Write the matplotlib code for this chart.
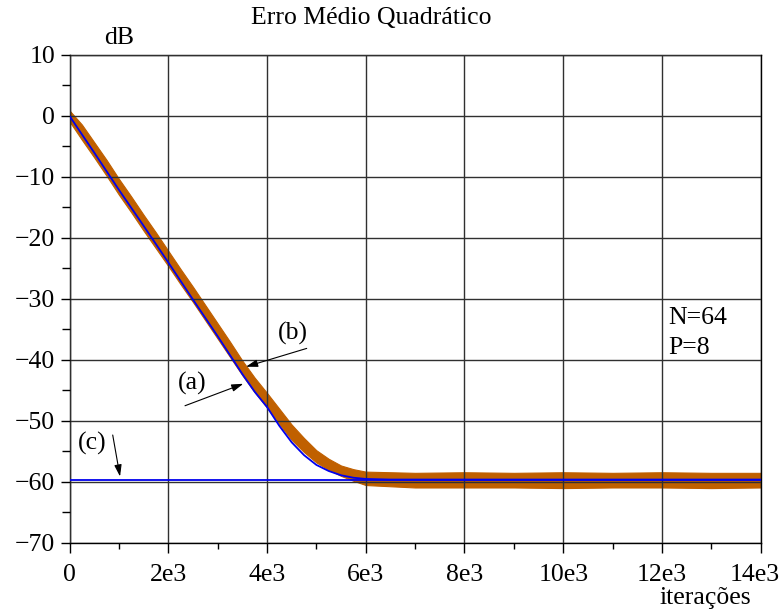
import matplotlib
matplotlib.use("Agg")
import matplotlib.pyplot as plt
from matplotlib.ticker import MultipleLocator
from matplotlib.transforms import ScaledTranslation

plt.rcParams['font.family'] = ['Liberation Serif', 'DejaVu Serif']
plt.rcParams['axes.unicode_minus'] = True

# (a) theoretical learning curve, dB
iter_a = [0, 250, 500, 750, 1000, 1250, 1500, 1750, 2000, 2250, 2500, 2750, 3000,
          3250, 3500, 3750, 4000, 4250, 4500, 4750, 5000, 5250, 5500, 5750, 6000,
          6500, 7000, 14000]
mse_a = [0.0, -3.0, -6.0, -9.05, -12.1, -15.05, -18.0, -21.0, -24.0, -27.05, -30.1,
         -33.1, -36.1, -39.2, -42.3, -45.2, -47.7, -50.8, -53.5, -55.6, -57.2, -58.2,
         -58.9, -59.3, -59.5, -59.6, -59.6, -59.6]

# (b) simulated learning curve: spread of the fluctuations, dB
iter_b = [0, 250, 500, 750, 1000, 1250, 1500, 1750, 2000, 2250, 2500, 2750, 3000,
          3250, 3500, 3750, 4000, 4250, 4500, 4750, 5000, 5250, 5500, 5750, 6000,
          7000, 8000, 9000, 10000, 11000, 12000, 13000, 14000]
upper_b = [0.9, -1.4, -4.3, -7.2, -10.3, -13.2, -16.2, -19.1, -22.1, -25.1, -28.0,
           -31.0, -34.0, -37.0, -40.1, -42.9, -45.4, -48.0, -50.6, -52.8, -54.8,
           -56.2, -57.3, -57.9, -58.3, -58.5, -58.4, -58.5, -58.4, -58.5, -58.4,
           -58.5, -58.5]
lower_b = [-0.9, -3.9, -6.8, -9.8, -12.9, -15.8, -18.8, -21.7, -24.6, -27.6, -30.5,
           -33.5, -36.5, -39.5, -42.5, -45.3, -47.8, -50.5, -53.1, -55.1, -56.8,
           -58.0, -59.0, -59.8, -60.5, -60.9, -60.9, -60.9, -61.0, -60.9, -60.9,
           -61.0, -60.9]

# (c) steady-state level, dB
floor_c = -59.6

x_ticks = [0, 2000, 4000, 6000, 8000, 10000, 12000, 14000]
x_labels = ['0', '2e3', '4e3', '6e3', '8e3', '10e3', '12e3', '14e3']
y_ticks = [10, 0, -10, -20, -30, -40, -50, -60, -70]

orange = '#C06000'
blue = '#0000EE'
fs = 18.5

fig = plt.figure(figsize=(7.82, 6.13), dpi=100)
ax = fig.add_axes([0.0889, 0.1142, 0.8839, 0.7961])

ax.fill_between(iter_b, lower_b, upper_b, color=orange, lw=0.8, zorder=1)
ax.plot(iter_a, mse_a, color=blue, lw=1.3, zorder=3)
ax.axhline(floor_c, color=blue, lw=1.3, zorder=3)

ax.set_xlim(0, 14000)
ax.set_ylim(-70, 10)
ax.set_xticks(x_ticks)
ax.set_xticklabels(x_labels)
ax.set_yticks(y_ticks)
ax.xaxis.set_minor_locator(MultipleLocator(1000))
ax.yaxis.set_minor_locator(MultipleLocator(5))

ax.set_axisbelow(False)
ax.grid(True, which='major', color='#303030', lw=1.0)
for s in ax.spines.values():
    s.set_color('black')
    s.set_linewidth(1.0)

ax.tick_params(axis='both', which='major', labelsize=fs, direction='out', color='black')
ax.tick_params(axis='x', which='major', length=7, width=1.0, pad=8)
ax.tick_params(axis='x', which='minor', length=4, width=1.0)
ax.tick_params(axis='y', which='major', length=6.5, width=1.0, pad=4)
ax.tick_params(axis='y', which='minor', length=6, width=1.0)

# keep the last x label inside the figure
last = ax.get_xticklabels()[-1]
last.set_transform(last.get_transform() + ScaledTranslation(-6 / 100, 0, fig.dpi_scale_trans))

fig.text(371.7 / 782, 1 - 18 / 613, 'Erro Médio Quadrático', ha='center', va='center', fontsize=fs)
fig.text(119 / 782, 1 - 38 / 613, 'dB', ha='center', va='center', fontsize=fs)
fig.text(705 / 782, 1 - 598 / 613, 'iterações', ha='center', va='center', fontsize=fs)

arrow = dict(arrowstyle='-|>,head_length=0.7,head_width=0.22', color='black', lw=0.8,
             shrinkA=0, shrinkB=0)
ax.text(4527, -35.6, '(b)', ha='center', va='center', fontsize=fs)
ax.annotate('', xy=(3575, -41.1), xytext=(4804, -38.1), arrowprops=arrow)
ax.text(2475, -43.8, '(a)', ha='center', va='center', fontsize=fs)
ax.annotate('', xy=(3520, -43.9), xytext=(2339, -47.5), arrowprops=arrow)
ax.text(450, -53.6, '(c)', ha='center', va='center', fontsize=fs)
ax.annotate('', xy=(1023, -59.1), xytext=(875, -52.3), arrowprops=arrow)

ax.text(12123, -33.1, 'N=64', ha='left', va='center', fontsize=fs)
ax.text(12123, -38.0, 'P=8', ha='left', va='center', fontsize=fs)

fig.savefig('out.png', dpi=100, facecolor='white')
